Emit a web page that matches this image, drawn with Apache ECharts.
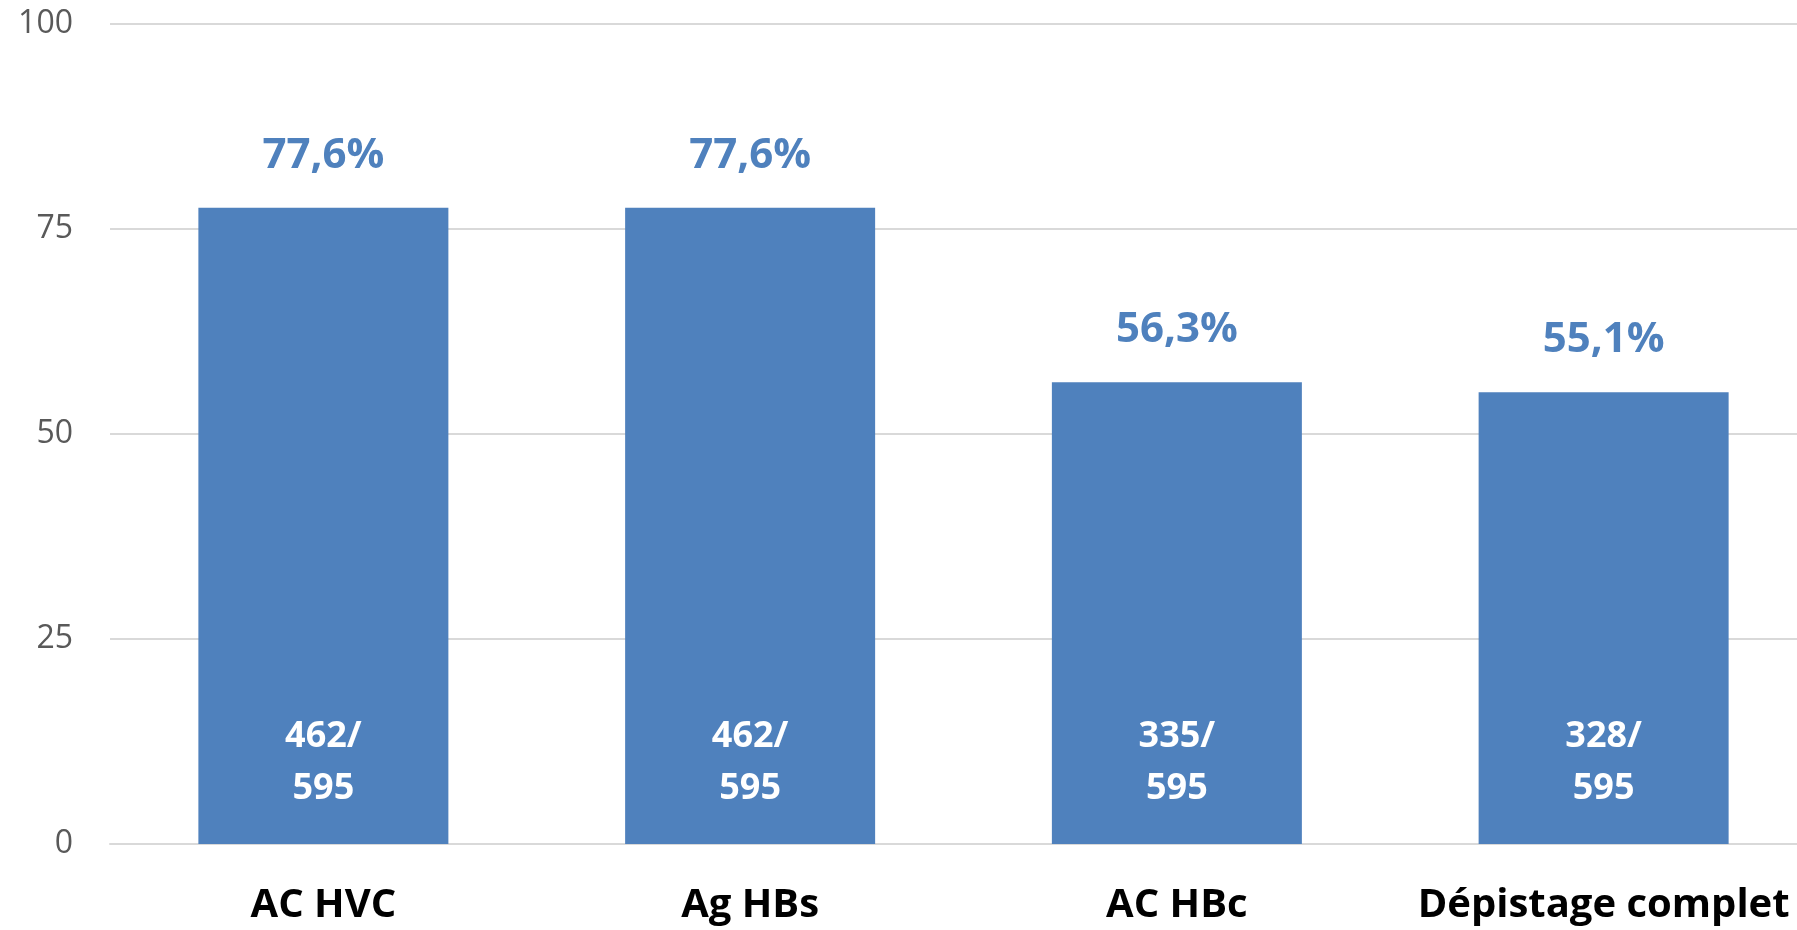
<html>
<head>
<meta charset="utf-8">
<script src="https://cdn.jsdelivr.net/npm/echarts@6/dist/echarts.min.js"></script>
<style>
  html, body { margin: 0; padding: 0; background: #fff; }
</style>
</head>
<body>
<div id="chart" style="width:1797px;height:930px;"></div>
<script>
// données
var categories = ['AC HVC', 'Ag HBs', 'AC HBc', 'Dépistage complet'];
var pourcentages = [77.6, 77.6, 56.3, 55.1];
var depistes = [462, 462, 335, 328];
var total = 595;
var yTicks = [0, 25, 50, 75, 100];

var bleu = '#4F81BD';
var font = '"Open Sans", "Noto Sans", sans-serif';

var chart = echarts.init(document.getElementById('chart'));

chart.setOption({
  animation: false,
  backgroundColor: '#ffffff',
  // la zone de tracé dépasse à droite (le graphique d'origine est rogné)
  grid: { left: 110, width: 1707, top: 24, bottom: 86, outerBoundsMode: 'none' },
  xAxis: {
    type: 'category',
    data: categories,
    axisTick: { show: false },
    axisLine: { lineStyle: { color: '#d9d9d9', width: 2 } },
    axisLabel: {
      interval: 0,
      margin: 42,
      color: '#000',
      fontFamily: font,
      fontWeight: 'bold',
      fontSize: 40
    }
  },
  yAxis: {
    type: 'value',
    min: yTicks[0],
    max: yTicks[yTicks.length - 1],
    interval: 25,
    axisLine: { show: false },
    axisTick: { show: false },
    splitLine: { lineStyle: { color: '#d9d9d9', width: 2 } },
    axisLabel: {
      margin: 37,
      color: '#595959',
      fontFamily: font,
      fontSize: 32
    }
  },
  series: [
    {
      // barres + effectifs à l'intérieur
      type: 'bar',
      data: pourcentages,
      barWidth: 250,
      itemStyle: { color: bleu },
      label: {
        show: true,
        position: 'insideBottom',
        distance: 29,
        color: '#fff',
        fontFamily: font,
        fontWeight: 'bold',
        fontSize: 36,
        lineHeight: 52,
        formatter: function (p) {
          return depistes[p.dataIndex] + '/\n' + total;
        }
      }
    },
    {
      // mêmes valeurs, transparent, juste pour le pourcentage au-dessus
      type: 'bar',
      data: pourcentages,
      barWidth: 250,
      barGap: '-100%',
      itemStyle: { color: 'rgba(0,0,0,0)' },
      silent: true,
      label: {
        show: true,
        position: 'top',
        distance: 31,
        color: bleu,
        fontFamily: font,
        fontWeight: 'bold',
        fontSize: 42,
        formatter: function (p) {
          return p.value.toFixed(1).replace('.', ',') + '%';
        }
      }
    }
  ]
});
</script>
</body>
</html>
